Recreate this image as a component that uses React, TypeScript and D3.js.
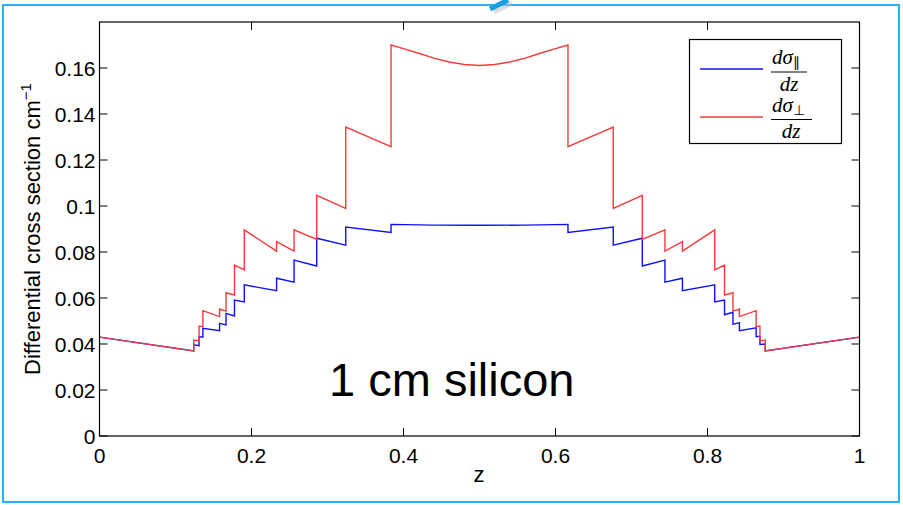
import React from "react";
import * as d3 from "d3";

// dσ∥/dz (blue) — [z, value]
const parallelPoints: [number, number][] = [
  [0, 0.043],
  [0.124, 0.037], [0.124, 0.0396],
  [0.131, 0.0393], [0.131, 0.0432],
  [0.136, 0.043], [0.136, 0.0468],
  [0.158, 0.0458], [0.158, 0.049],
  [0.1665, 0.0483], [0.1665, 0.0533],
  [0.1776, 0.0522], [0.1776, 0.0591],
  [0.1905, 0.0583], [0.1905, 0.0657],
  [0.233, 0.0632], [0.233, 0.0686],
  [0.256, 0.0669], [0.256, 0.0765],
  [0.2858, 0.0739], [0.2858, 0.086],
  [0.324, 0.083], [0.324, 0.0908],
  [0.3836, 0.0885], [0.3836, 0.092],
  [0.44, 0.0917], [0.5, 0.0916], [0.56, 0.0917],
  [0.6164, 0.092], [0.6164, 0.0885],
  [0.676, 0.0908], [0.676, 0.083],
  [0.7142, 0.086], [0.7142, 0.0739],
  [0.744, 0.0765], [0.744, 0.0669],
  [0.767, 0.0686], [0.767, 0.0632],
  [0.8095, 0.0657], [0.8095, 0.0583],
  [0.8224, 0.0591], [0.8224, 0.0527],
  [0.8335, 0.0538], [0.8335, 0.0486],
  [0.842, 0.0492], [0.842, 0.0458],
  [0.864, 0.047], [0.864, 0.0432],
  [0.869, 0.0434], [0.869, 0.0398],
  [0.876, 0.04], [0.876, 0.037],
  [1, 0.043],
];

// dσ⊥/dz (red) — [z, value]
const perpendicularPoints: [number, number][] = [
  [0, 0.043],
  [0.124, 0.037], [0.124, 0.0417],
  [0.131, 0.0413], [0.131, 0.0478],
  [0.136, 0.0475], [0.136, 0.0545],
  [0.158, 0.0519], [0.158, 0.0552],
  [0.1665, 0.0543], [0.1665, 0.0623],
  [0.1776, 0.0613], [0.1776, 0.0743],
  [0.1905, 0.0722], [0.1905, 0.0896],
  [0.233, 0.0804], [0.233, 0.0845],
  [0.256, 0.0804], [0.256, 0.0896],
  [0.2858, 0.0855], [0.2858, 0.1046],
  [0.324, 0.099], [0.324, 0.1343],
  [0.3836, 0.1258], [0.3836, 0.17],
  [0.4, 0.1684], [0.42, 0.1664], [0.44, 0.1643], [0.46, 0.1626],
  [0.48, 0.1615], [0.5, 0.1611], [0.52, 0.1615], [0.54, 0.1626],
  [0.56, 0.1643], [0.58, 0.1664], [0.6, 0.1684],
  [0.6164, 0.17], [0.6164, 0.1258],
  [0.676, 0.1343], [0.676, 0.099],
  [0.7142, 0.1046], [0.7142, 0.0855],
  [0.744, 0.0896], [0.744, 0.0804],
  [0.767, 0.0845], [0.767, 0.0804],
  [0.8095, 0.0896], [0.8095, 0.0722],
  [0.8224, 0.0743], [0.8224, 0.0613],
  [0.8335, 0.0623], [0.8335, 0.0543],
  [0.842, 0.0552], [0.842, 0.0519],
  [0.864, 0.0545], [0.864, 0.0475],
  [0.869, 0.0478], [0.869, 0.0413],
  [0.876, 0.0417], [0.876, 0.037],
  [1, 0.043],
];

const xTicks = [0, 0.2, 0.4, 0.6, 0.8, 1];
const yTicks = [0, 0.02, 0.04, 0.06, 0.08, 0.1, 0.12, 0.14, 0.16];

const W = 903;
const H = 505;
const PL = 99.5;
const PR = 859.5;
const PT = 22;
const PB = 436;

export default function App() {
  const x = d3.scaleLinear().domain([0, 1]).range([PL, PR]);
  const y = d3.scaleLinear().domain([0, 0.18]).range([PB, PT]);
  const line = d3
    .line<[number, number]>()
    .x((d) => x(d[0]))
    .y((d) => y(d[1]));
  const tick = 8;
  const font = "Liberation Sans, Arial, Helvetica, sans-serif";
  const serif = "Liberation Serif, Times New Roman, serif";

  return (
    <svg
      width={W}
      height={H}
      style={{ position: "fixed", left: 0, top: 0, background: "#fff" }}
    >
      {/* outer slide frame */}
      <rect x={3} y={5} width={896} height={497} fill="none" stroke="#2ab2ee" strokeWidth={2} />
      {/* callout arrow piece */}
      <path d="M494,12 L512,3" stroke="#bbb" strokeWidth={5} opacity={0.5} />
      <path d="M490,9 L508,0" stroke="#1b9fe3" strokeWidth={5} />

      <g fontFamily={font} fill="#000">
        {/* ticks */}
        {xTicks.map((t) => (
          <g key={"x" + t}>
            <line x1={x(t)} x2={x(t)} y1={PB} y2={PB - tick} stroke="#000" />
            <line x1={x(t)} x2={x(t)} y1={PT} y2={PT + tick} stroke="#000" />
            <text x={x(t)} y={PB + 27} textAnchor="middle" fontSize={21}>
              {String(t)}
            </text>
          </g>
        ))}
        {yTicks.map((t) => (
          <g key={"y" + t}>
            <line x1={PL} x2={PL + tick} y1={y(t)} y2={y(t)} stroke="#000" />
            <line x1={PR} x2={PR - tick} y1={y(t)} y2={y(t)} stroke="#000" />
            <text x={PL - 4} y={y(t) + 7.5} textAnchor="end" fontSize={21}>
              {String(t)}
            </text>
          </g>
        ))}
        <text x={479} y={482} textAnchor="middle" fontSize={22}>
          z
        </text>
        <text
          transform={`translate(40, ${(PT + PB) / 2 + 0}) rotate(-90)`}
          textAnchor="middle"
          fontSize={22}
        >
          Differential cross section cm
          <tspan dy={-9} fontSize={15}>−1</tspan>
        </text>
        <text x={329} y={396} fontSize={47}>
          1 cm silicon
        </text>
      </g>

      {/* data */}
      <path d={line(parallelPoints) ?? ""} fill="none" stroke="#1010ff" strokeWidth={1.4} />
      <path d={line(perpendicularPoints) ?? ""} fill="none" stroke="#f23c3c" strokeWidth={1.4} />

      {/* axes box */}
      <rect x={PL} y={PT} width={PR - PL} height={PB - PT} fill="none" stroke="#000" strokeWidth={1.2} />

      {/* legend */}
      <g>
        <rect x={689.5} y={39.5} width={152} height={104} fill="#fff" stroke="#000" strokeWidth={1.2} />
        <line x1={700} x2={763} y1={69} y2={69} stroke="#1010ff" strokeWidth={1.4} />
        <line x1={700} x2={763} y1={117} y2={117} stroke="#f23c3c" strokeWidth={1.4} />
        <g fontFamily={serif} fontStyle="italic" fontSize={21} fill="#000">
          <text x={772} y={64}>
            dσ<tspan fontStyle="normal" fontSize={14} dy={3}>∥</tspan>
          </text>
          <line x1={771} x2={807} y1={72} y2={72} stroke="#000" strokeWidth={1} />
          <text x={789} y={91} textAnchor="middle">dz</text>
          <text x={772} y={112}>
            dσ<tspan fontStyle="normal" fontSize={14} dy={3}>⊥</tspan>
          </text>
          <line x1={771} x2={812} y1={119.5} y2={119.5} stroke="#000" strokeWidth={1} />
          <text x={791} y={138} textAnchor="middle">dz</text>
        </g>
      </g>
    </svg>
  );
}
